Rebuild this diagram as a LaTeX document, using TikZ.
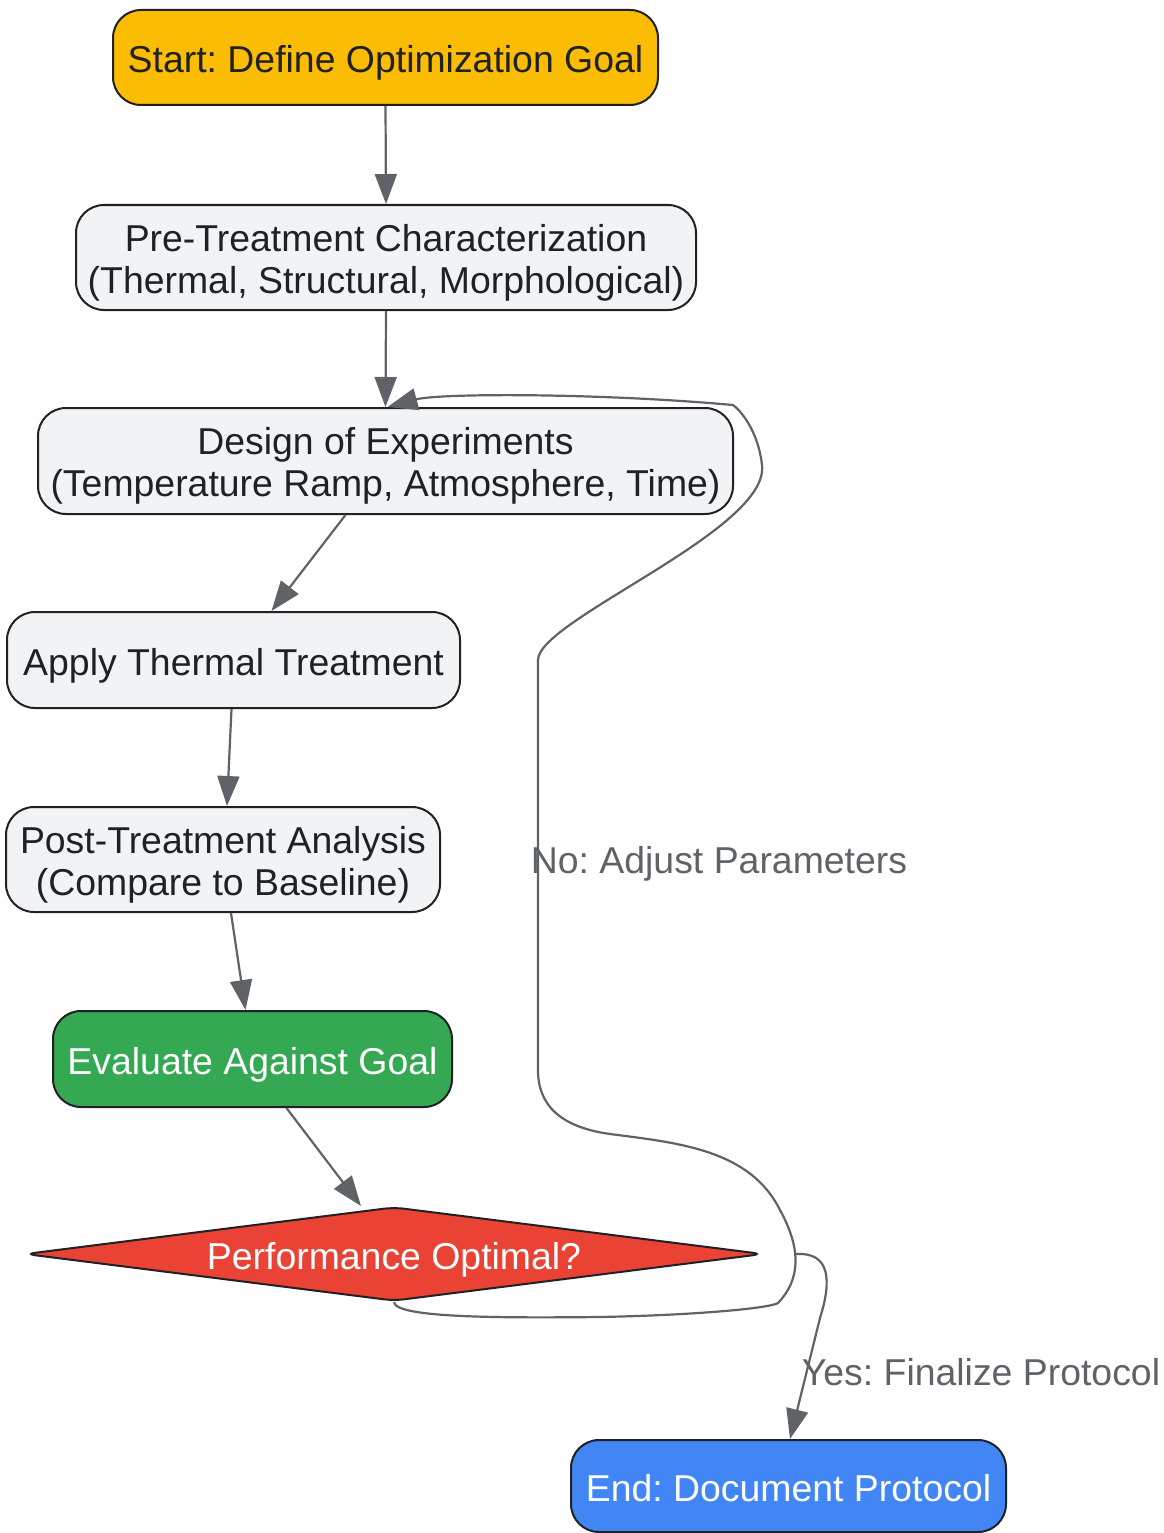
\documentclass[tikz,border=0pt]{standalone}
\usepackage{fontspec}
\setmainfont{Liberation Sans}
\frenchspacing
\usetikzlibrary{arrows.meta,shapes.geometric}
\definecolor{cyellow}{HTML}{FBBC04}
\definecolor{cgray}{HTML}{F1F3F4}
\definecolor{cgreen}{HTML}{34A853}
\definecolor{cred}{HTML}{EA4335}
\definecolor{cblue}{HTML}{4285F4}
\definecolor{cedge}{HTML}{5F6368}
\definecolor{cborder}{HTML}{202124}
\tikzset{
  box/.style={draw=cborder, line width=2pt, rounded corners=28pt, align=center,
    font=\fontsize{37.4}{42}\selectfont, text=cborder, inner sep=0pt,
    text height=35pt, text depth=4pt},
  twoline/.style={text height=77pt, text depth=5.2pt},
  edge/.style={draw=cedge, line width=2.2pt, -{Triangle[length=30pt,width=22pt]}},
  lbl/.style={text=cedge, font=\fontsize{37.4}{42}\selectfont, inner sep=0pt,
    text height=35pt, text depth=4pt}
}
\begin{document}
\begin{tikzpicture}[x=1pt,y=-1pt]
\useasboundingbox (0,0) rectangle (1163,1533);
\node[box, fill=cyellow, minimum width=545pt, minimum height=95pt] (start) at (385.5,57.5) {Start: Define Optimization Goal};
\node[box, twoline, fill=cgray, minimum width=620pt, minimum height=105pt] (pre) at (386,257.5) {Pre-Treatment Characterization\\(Thermal, Structural, Morphological)};
\node[box, twoline, fill=cgray, minimum width=695pt, minimum height=106pt] (doe) at (385.5,461) {Design of Experiments\\(Temperature Ramp, Atmosphere, Time)};
\node[box, fill=cgray, minimum width=453pt, minimum height=96pt] (apply) at (233.5,660) {Apply Thermal Treatment};
\node[box, twoline, fill=cgray, minimum width=434pt, minimum height=105pt] (post) at (223,859.5) {Post-Treatment Analysis\\(Compare to Baseline)};
\node[box, fill=cgreen, text=white, minimum width=399pt, minimum height=96pt] (eval) at (252.5,1059) {Evaluate Against Goal};
\node[diamond, aspect=8, draw=cborder, line width=2pt, fill=cred, text=white,
  minimum width=738pt, minimum height=94pt, inner sep=0pt, rounded corners=10pt,
  font=\fontsize{37.4}{42}\selectfont, text height=35pt, text depth=4pt] (dec) at (394,1254) {Performance Optimal?};
\node[box, fill=cblue, text=white, minimum width=435pt, minimum height=92pt] (end) at (788.5,1486) {End: Document Protocol};

\draw[edge] (start.south) -- (pre.north);
\draw[edge] (pre.south) -- (doe.north);
\draw[edge] ([xshift=-40pt]doe.south) -- ([xshift=38pt]apply.north);
\draw[edge] ([xshift=-2pt]apply.south) -- ([xshift=4pt]post.north);
\draw[edge] ([xshift=8pt]post.south) -- ([xshift=-7pt]eval.north);
\draw[edge] ([xshift=34pt]eval.south) -- ([xshift=-33pt]dec.north);

\draw[edge] ([xshift=32pt]dec.east) .. controls (830,1252) and (832,1280) .. (820,1318) -- ([xshift=1.5pt]end.north);
\node[lbl] (yes) at (981,1370) {Yes: Finalize Protocol};

\draw[edge] (dec.south) .. controls (395,1318) and (500,1318) .. (600,1317)
  .. controls (700,1315) and (770,1308) .. (778,1303)
  .. controls (800,1280) and (802,1250) .. (780,1210)
  .. controls (750,1150) and (680,1143) .. (610,1134)
  .. controls (560,1127) and (538,1105) .. (538,1070)
  -- (538,660)
  .. controls (538,620) and (770,530) .. (762,465)
  .. controls (758,430) and (740,410) .. (733,405)
  .. controls (600,393) and (440,393) .. ([xshift=2pt]doe.north);
\node[lbl] (no) at (719,858) {No: Adjust Parameters};
\end{tikzpicture}
\end{document}
